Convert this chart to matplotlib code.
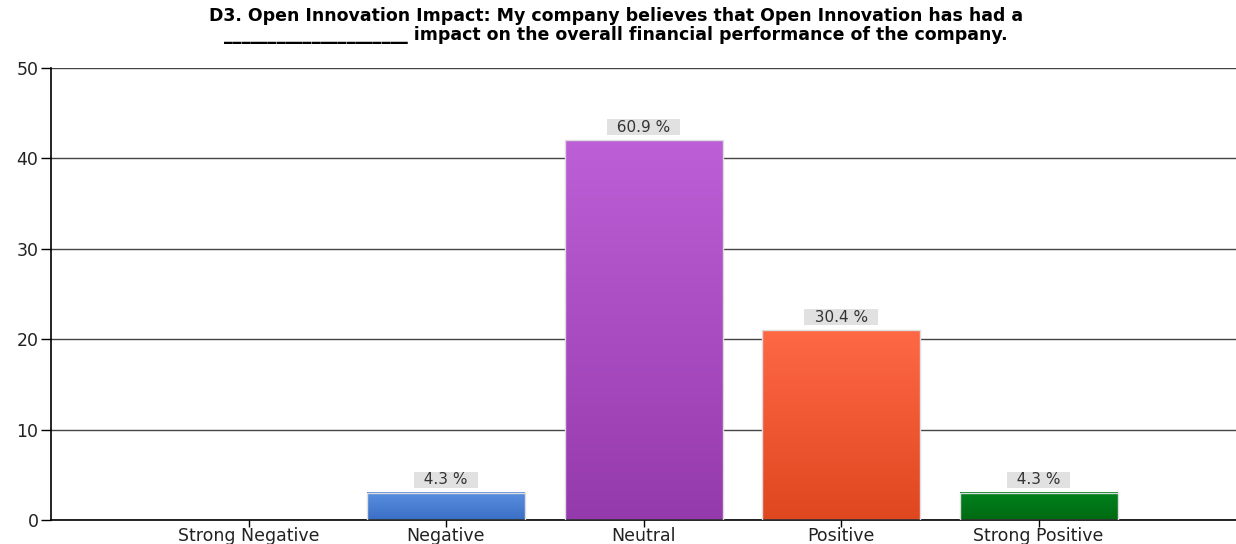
import matplotlib.pyplot as plt
import matplotlib.colors as mcolors
import numpy as np

categories = ['Strong Negative', 'Negative', 'Neutral', 'Positive', 'Strong Positive']
counts = [0, 3, 42, 21, 3]
percent_labels = ['', '4.3 %', '60.9 %', '30.4 %', '4.3 %']
top_colors = ['#5b8fe0', '#5b8fe0', '#bd5fd6', '#ff6845', '#00821f']
bottom_colors = ['#3a6fc6', '#3a6fc6', '#953aad', '#df4720', '#006a10']

plt.rcParams['font.family'] = ['DejaVu Sans']

fig = plt.figure(figsize=(12.36, 5.44), dpi=100)
ax = fig.add_axes([51 / 1236, 24 / 544, 1 - 51 / 1236, 452 / 544])

x = np.arange(len(categories))
bars = ax.bar(x, counts, width=0.8, color='none', edgecolor='#dddddd', linewidth=1.0, zorder=3)

# vertical gradient fill inside each bar
for bar, c_top, c_bot in zip(bars, top_colors, bottom_colors):
    h = bar.get_height()
    if h <= 0:
        bar.set_visible(False)
        continue
    cmap = mcolors.LinearSegmentedColormap.from_list('g', [c_bot, c_top])
    grad = np.linspace(0, 1, 256).reshape(-1, 1)
    x0 = bar.get_x()
    ax.imshow(grad, cmap=cmap, origin='lower', aspect='auto',
              extent=(x0, x0 + bar.get_width(), 0, h), zorder=2)

for xi, cnt, lab in zip(x, counts, percent_labels):
    if not lab:
        continue
    ax.text(xi, cnt + 1.45, '  ' + lab + '  ', ha='center', va='center', fontsize=11, color='#333333',
            bbox=dict(boxstyle='square,pad=0.02', facecolor='#e1e1e1', edgecolor='none'),
            zorder=4)

ax.set_xlim(-1, 5)
ax.set_ylim(0, 50)
ax.set_yticks([0, 10, 20, 30, 40, 50])
ax.set_xticks(x)
ax.set_xticklabels(categories, fontsize=12.5, color='#222222')
ax.tick_params(axis='y', labelsize=12.5, labelcolor='#222222', length=7, width=1, pad=2)
ax.tick_params(axis='x', length=5, width=1, pad=0)
ax.yaxis.grid(True, color='#444444', linewidth=1.0, zorder=1)
ax.set_axisbelow(True)
for side in ['top', 'right']:
    ax.spines[side].set_visible(False)
ax.spines['left'].set_linewidth(1.2)
ax.spines['bottom'].set_linewidth(1.2)

fig.text(0.4985, 0.970, 'D3. Open Innovation Impact: My company believes that Open Innovation has had a',
         ha='center', va='center', fontsize=12.5, fontweight='bold')
fig.text(0.4985, 0.936, '_____________________ impact on the overall financial performance of the company.',
         ha='center', va='center', fontsize=12.5, fontweight='bold')

fig.savefig('out.png', dpi=100)
